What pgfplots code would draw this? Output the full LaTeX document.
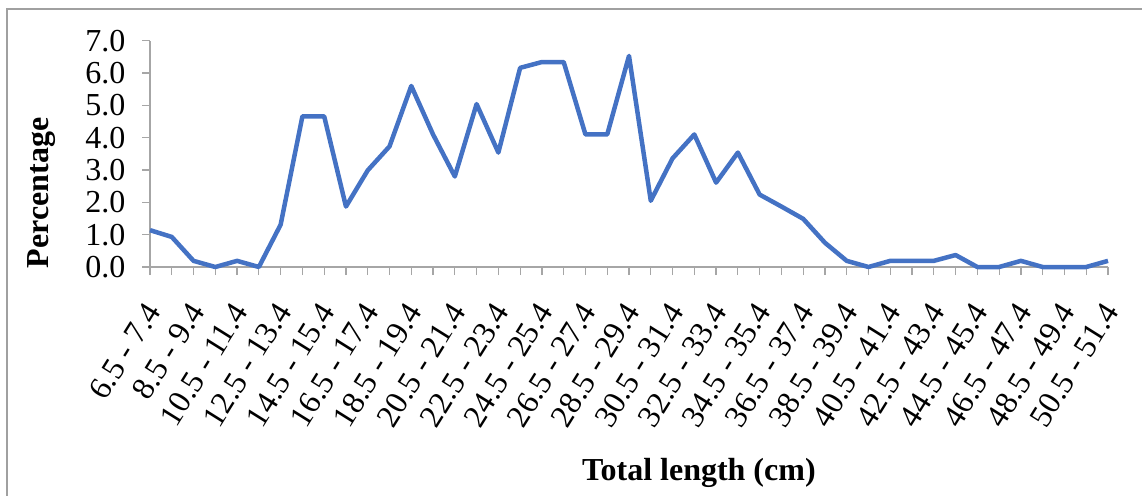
\documentclass[border=0pt]{standalone}
\usepackage{pgfplots}
\pgfplotsset{compat=1.18}
\usepackage{fontspec}
\setmainfont{Liberation Serif}
\definecolor{xlblue}{HTML}{4472C4}
\definecolor{axgray}{HTML}{A6A6A6}
\definecolor{framegray}{HTML}{A0A0A0}

\begin{document}
\begin{tikzpicture}[x=1pt,y=1pt]
\useasboundingbox (0,0) rectangle (1142,495);
\draw[framegray, line width=2pt] (7,-5) -- (7,486) -- (1150,486);
\begin{axis}[
  at={(150pt,228pt)}, anchor=south west,
  scale only axis, width=958pt, height=226.3pt,
  xmin=0, xmax=44, ymin=0, ymax=7,
  axis lines*=left,
  axis line style={axgray, line width=1.2pt},
  tick align=outside,
  xtick={0,2,...,44}, minor xtick={1,3,...,43},
  major tick length=8pt, minor tick length=8pt,
  tick style={axgray, line width=1.2pt},
  minor tick style={axgray, line width=1.2pt},
  xticklabels={6.5 - 7.4, 8.5 - 9.4, 10.5 - 11.4, 12.5 - 13.4, 14.5 - 15.4, 16.5 - 17.4, 18.5 - 19.4, 20.5 - 21.4, 22.5 - 23.4, 24.5 - 25.4, 26.5 - 27.4, 28.5 - 29.4, 30.5 - 31.4, 32.5 - 33.4, 34.5 - 35.4, 36.5 - 37.4, 38.5 - 39.4, 40.5 - 41.4, 42.5 - 43.4, 44.5 - 45.4, 46.5 - 47.4, 48.5 - 49.4, 50.5 - 51.4},
  xticklabel style={xshift=5pt, yshift=-28pt, rotate=58, anchor=east, font=\fontsize{32}{38}\selectfont},
  ytick={0,1,2,3,4,5,6,7},
  yticklabels={0.0,1.0,2.0,3.0,4.0,5.0,6.0,7.0},
  yticklabel style={xshift=-13pt, font=\fontsize{32}{38}\selectfont},
  ylabel={Percentage},
  ylabel style={at={(axis description cs:-0.113,0.327)}, anchor=center, font=\fontsize{32}{38}\selectfont\bfseries},
  xlabel={Total length (cm)},
  xlabel style={at={(axis description cs:0.573,-0.910)}, anchor=center, font=\fontsize{32}{38}\selectfont\bfseries},
  clip=false,
]
\addplot[xlblue, line width=4.5pt, line join=round] coordinates {
(0,1.14) (1,0.93) (2,0.19) (3,0) (4,0.19) (5,0) (6,1.31) (7,4.66) (8,4.66) (9,1.87)
(10,2.99) (11,3.73) (12,5.60) (13,4.10) (14,2.80) (15,5.04) (16,3.54) (17,6.16) (18,6.34) (19,6.34)
(20,4.10) (21,4.10) (22,6.53) (23,2.05) (24,3.36) (25,4.10) (26,2.61) (27,3.54) (28,2.24) (29,1.87)
(30,1.49) (31,0.75) (32,0.19) (33,0) (34,0.19) (35,0.19) (36,0.19) (37,0.37) (38,0) (39,0)
(40,0.19) (41,0) (42,0) (43,0) (44,0.19)
};
\end{axis}
\end{tikzpicture}
\end{document}
